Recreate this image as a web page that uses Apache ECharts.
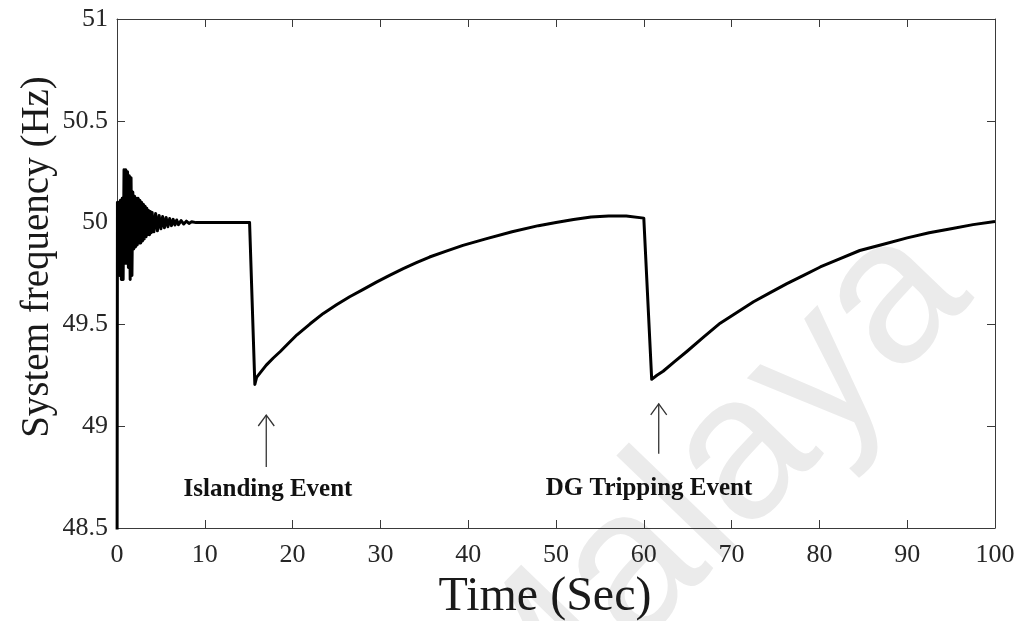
<!DOCTYPE html>
<html>
<head>
<meta charset="utf-8">
<script src="https://cdn.jsdelivr.net/npm/echarts@6/dist/echarts.min.js"></script>
<style>
  html, body { margin: 0; padding: 0; background: #ffffff; }
  #chart { width: 1024px; height: 621px; }
</style>
</head>
<body>
<div id="chart"></div>
<script>
// Simulation time (s) and system frequency (Hz)
const time = [
  0, 0.05, 0.1, 0.2, 0.3, 0.4, 0.5, 0.6, 0.7, 0.8, 0.9, 1.0, 1.1, 1.2, 1.3, 1.4, 1.5, 1.6, 1.7, 1.8, 1.9,
  2.0, 2.1, 2.2, 2.3, 2.4, 2.5, 2.6, 2.7, 2.8, 2.9, 3.0, 3.1, 3.2, 3.3, 3.4, 3.5, 3.6, 3.7, 3.8, 3.9,
  4.0, 4.2, 4.4, 4.6, 4.8, 5.0, 5.2, 5.4, 5.6, 5.8, 6.0, 6.2, 6.4, 6.6, 6.8, 7.0, 7.3, 7.6, 7.9, 8.2, 8.5,
  9.0, 12.0, 15.1, 15.7, 15.9, 16.3, 17.0, 17.8, 18.6, 19.5, 20.5, 22.0, 23.5, 25.0, 26.5, 28.0, 29.6,
  31.1, 32.6, 34.1, 35.6, 37.5, 39.4, 42.0, 45.0, 48.0, 50.0, 52.0, 54.0, 56.0, 58.0, 60.0,
  60.1, 60.9, 61.5, 62.2, 63.5, 64.9, 66.8, 68.7, 70.6, 72.5, 74.4, 76.3, 78.2, 80.1, 82.3, 84.6,
  87.3, 90.0, 92.5, 95.0, 97.5, 100.0
];
const freq = [
  48.0, 50.10, 49.78, 50.10, 49.74, 50.11, 49.72, 50.12, 49.72, 50.26, 49.80, 50.26, 49.80, 50.25, 49.78, 50.23, 49.72, 50.22, 49.74, 50.15, 49.87,
  50.13, 49.88, 50.12, 49.89, 50.12, 49.90, 50.11, 49.90, 50.10, 49.91, 50.09, 49.92, 50.08, 49.93, 50.07, 49.94, 50.06, 49.94, 50.055, 49.95,
  50.05, 49.955, 50.045, 49.96, 50.035, 49.97, 50.03, 49.975, 50.025, 49.98, 50.02, 49.985, 50.016, 49.988, 50.013, 49.99, 50.01, 49.993, 50.007, 49.996, 50.004,
  50.0, 50.0, 50.0, 49.205, 49.24, 49.262, 49.30, 49.335, 49.367, 49.406, 49.449, 49.503, 49.554, 49.596, 49.636, 49.671, 49.709,
  49.742, 49.774, 49.803, 49.831, 49.86, 49.888, 49.92, 49.955, 49.985, 50.0, 50.015, 50.028, 50.033, 50.032, 50.022,
  50.02, 49.23, 49.25, 49.27, 49.317, 49.367, 49.437, 49.506, 49.559, 49.611, 49.656, 49.70, 49.741, 49.782, 49.822, 49.863,
  49.894, 49.925, 49.95, 49.97, 49.99, 50.005
];

// Event annotations (arrow from tail up to tip, label below)
const eventLabels = ['Islanding Event', 'DG Tripping Event'];
const eventTime = [17.0, 61.7];
const arrowTip = [49.055, 49.11];
const arrowTail = [48.80, 48.865];
const labelTime = [17.2, 60.6];
const labelFreq = [48.69, 48.695];

const serif = "'Liberation Serif', 'Times New Roman', Times, serif";
const axisColor = '#3a3a3a';
const textColor = '#262626';

const chart = echarts.init(document.getElementById('chart'), null, { renderer: 'canvas' });

const boxAxis = (extra) => Object.assign({
  type: 'value',
  axisLine: { show: true, onZero: false, lineStyle: { color: axisColor, width: 1 } },
  axisTick: { show: true, inside: true, length: 8, lineStyle: { color: axisColor, width: 1 } },
  splitLine: { show: false }
}, extra);

chart.setOption({
  animation: false,
  backgroundColor: '#ffffff',
  grid: { left: 117, right: 29, top: 19, bottom: 93, containLabel: false },
  xAxis: [
    boxAxis({
      position: 'bottom', min: 0, max: 100, interval: 10,
      axisLabel: { fontFamily: serif, fontSize: 26, color: textColor, margin: 14 }
    }),
    boxAxis({ position: 'top', min: 0, max: 100, interval: 10, axisLabel: { show: false } })
  ],
  yAxis: [
    boxAxis({
      position: 'left', min: 48.5, max: 51, interval: 0.5,
      axisLabel: { fontFamily: serif, fontSize: 26, color: textColor, margin: 9 }
    }),
    boxAxis({ position: 'right', min: 48.5, max: 51, interval: 0.5, axisLabel: { show: false } })
  ],
  series: [{
    type: 'line',
    xAxisIndex: 0,
    yAxisIndex: 0,
    data: time.map((t, i) => [t, freq[i]]),
    showSymbol: false,
    symbol: 'none',
    clip: true,
    z: 5,
    lineStyle: { color: '#000000', width: 3, join: 'round' }
  }]
});

const px = (t, f) => chart.convertToPixel({ xAxisIndex: 0, yAxisIndex: 0 }, [t, f]);

const graphics = [
  {
    type: 'text', z: -1, silent: true,
    x: 1008, y: 330, rotation: 46 * Math.PI / 180,
    style: {
      text: 'Malaya', fontFamily: "'Liberation Sans', Arial, sans-serif",
      fontSize: 205, fill: '#ebebeb', align: 'right', verticalAlign: 'bottom'
    }
  },
  {
    type: 'text', z: 10,
    x: 38, y: 257, rotation: Math.PI / 2,
    style: {
      text: 'System frequency (Hz)', fontFamily: serif, fontSize: 39,
      fill: '#1a1a1a', align: 'center', verticalAlign: 'middle'
    }
  },
  {
    type: 'text', z: 10,
    x: 545, y: 597,
    style: {
      text: 'Time (Sec)', fontFamily: serif, fontSize: 48,
      fill: '#1a1a1a', align: 'center', verticalAlign: 'middle'
    }
  }
];

eventLabels.forEach((label, i) => {
  const tip = px(eventTime[i], arrowTip[i]);
  const tail = px(eventTime[i], arrowTail[i]);
  const lbl = px(labelTime[i], labelFreq[i]);
  const stroke = { stroke: '#333333', lineWidth: 1.3, fill: null };
  graphics.push(
    { type: 'polyline', z: 10, shape: { points: [tail, tip] }, style: stroke },
    { type: 'polyline', z: 10, shape: { points: [[tip[0] - 8, tip[1] + 11], tip, [tip[0] + 8, tip[1] + 11]] }, style: stroke },
    {
      type: 'text', z: 10, x: lbl[0], y: lbl[1],
      style: {
        text: label, fontFamily: serif, fontSize: 25, fontWeight: 'bold',
        fill: '#111111', align: 'center', verticalAlign: 'middle'
      }
    }
  );
});

chart.setOption({ graphic: graphics });
</script>
</body>
</html>
